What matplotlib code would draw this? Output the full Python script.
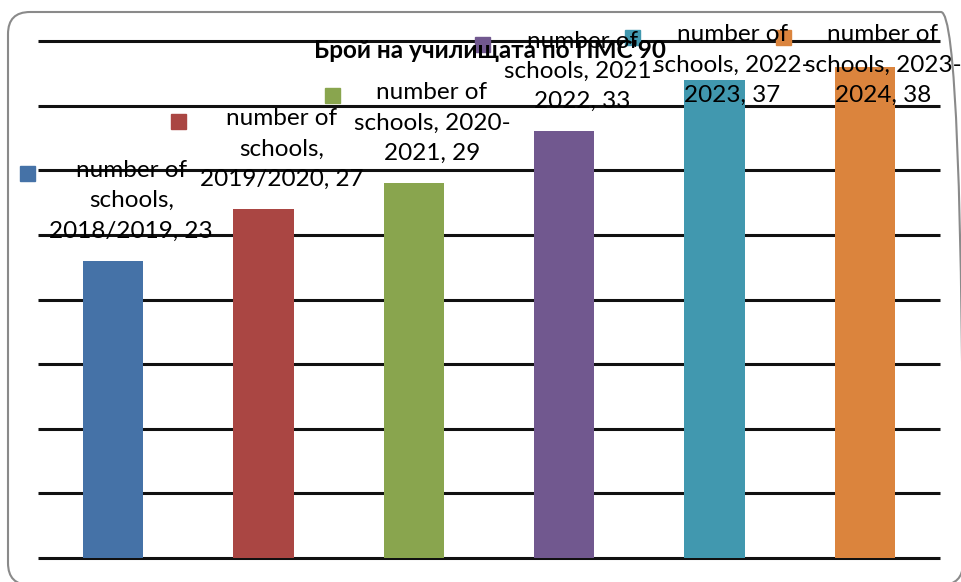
import matplotlib.pyplot as plt
from matplotlib.patches import Rectangle, FancyBboxPatch
from matplotlib.transforms import IdentityTransform

plt.rcParams['font.family'] = ['Lato', 'Noto Sans', 'DejaVu Sans']

# data
title = "Брой на училищата по ПМС'90"
series_name = "number of schools"
seasons = ["2018/2019", "2019/2020", "2020-2021", "2021-2022", "2022-2023", "2023-2024"]
schools = [23, 27, 29, 33, 37, 38]
colors = ["#4572A7", "#AA4643", "#89A54E", "#71588F", "#4198AF", "#DB843D"]
yticks = list(range(0, 41, 5))

W, H = 962, 582
fig = plt.figure(figsize=(W / 100, H / 100), dpi=100)
ax = fig.add_axes([38 / W, 24 / H, 902 / W, 517 / H])
ax.set_xlim(-0.5, len(seasons) - 0.5)
ax.set_ylim(0, 40)

x = list(range(len(seasons)))
ax.hlines(yticks, -0.5, len(seasons) - 0.5, color="#111111", lw=2.2, zorder=1, clip_on=False)
ax.bar(x, schools, width=0.4, color=colors, zorder=3)

ax.set_xticks([])
ax.set_yticks([])
for s in ax.spines.values():
    s.set_visible(False)

fig.text(490 / W, 1 - 50 / H, title, ha="center", va="center",
         fontsize=17.5, fontweight="bold")

# data labels with legend keys
first_word, second_word = series_name.rsplit(" ", 1)
texts = []
for i, (season, val) in enumerate(zip(seasons, schools)):
    if "-" in season:
        a, b = season.split("-")
        lines = [first_word, f"{second_word}, {a}-", f"{b}, {val}"]
    else:
        lines = [first_word, f"{second_word},", f"{season}, {val}"]
    px, py = ax.transData.transform((i, val))
    cy = min(py + 60, H - 65)
    t = fig.text((px + 18) / W, cy / H, "\n".join(lines), ha="center", va="center",
                 multialignment="center", fontsize=17.5, linespacing=1.55, zorder=5)
    texts.append((t, colors[i]))

fig.canvas.draw()
r = fig.canvas.get_renderer()
for t, c in texts:
    bb = t.get_window_extent(r)
    line_h = bb.height / 3
    yc = bb.y1 - line_h / 2
    fig.add_artist(Rectangle((bb.x0 - 14 - 15, yc - 7.5), 15, 15, color=c,
                             transform=IdentityTransform()))

fig.add_artist(FancyBboxPatch((8, -3), 955, 573, boxstyle="round,pad=0,rounding_size=22",
                              transform=IdentityTransform(), fill=False,
                              ec="#8a8a8a", lw=1.5))

fig.savefig("out.png", dpi=100)
